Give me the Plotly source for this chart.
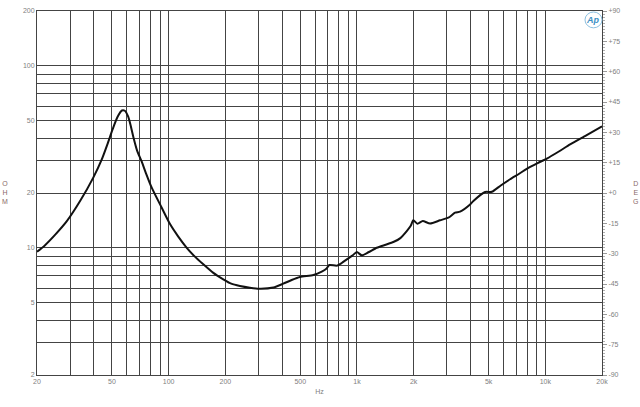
import plotly.graph_objects as go

# Impedance magnitude curve
freq_hz = [20, 22, 25, 28.8, 33.8, 39.8, 44.1, 47.5, 50.5, 53.5, 56.5, 58.5, 61, 63, 65, 68, 71.9,
           76, 81.3, 91.9, 101.7, 112, 124.8, 137, 152.8, 172, 195, 215, 239, 270, 306, 360, 406,
           450, 498, 587, 650, 690, 713, 781, 830, 883, 950, 998, 1060, 1150, 1274, 1420, 1560,
           1700, 1838, 1930, 1992, 2094, 2235, 2444, 2761, 3057, 3318, 3527, 3988, 4150, 4790,
           5199, 5800, 6502, 7300, 8131, 9100, 10186, 11800, 13540, 16500, 20000]
impedance_ohm = [9.5, 10.3, 11.8, 14.0, 18.0, 24.3, 30.5, 37.5, 45.0, 52.3, 56.8, 56.6, 52.5, 46.5,
                 40.5, 34.2, 29.8, 25.5, 21.4, 16.6, 13.5, 11.6, 10.0, 9.0, 8.11, 7.3, 6.71, 6.35,
                 6.17, 6.04, 5.96, 6.05, 6.35, 6.65, 6.91, 7.09, 7.40, 7.7, 8.04, 7.98, 8.25, 8.64,
                 9.1, 9.48, 9.09, 9.45, 10.0, 10.4, 10.76, 11.3, 12.36, 13.2, 14.16, 13.56, 14.03,
                 13.6, 14.16, 14.63, 15.6, 15.8, 17.3, 18.07, 20.25, 20.3, 22.0, 23.8, 25.6, 27.5,
                 29.2, 30.9, 33.8, 37.0, 41.5, 46.5]

# Axis grids and labels
x_grid = [20, 30, 40, 50, 60, 70, 80, 90, 100, 200, 300, 400, 500, 600, 700, 800, 900,
          1000, 2000, 3000, 4000, 5000, 6000, 7000, 8000, 9000, 10000, 20000]
x_labels = {20: "20", 50: "50", 100: "100", 200: "200", 500: "500", 1000: "1k",
            2000: "2k", 5000: "5k", 10000: "10k", 20000: "20k"}
y_grid = [2, 3, 4, 5, 6, 7, 8, 9, 10, 20, 30, 40, 50, 60, 70, 80, 90, 100, 200]
y_labels = {2: "2", 5: "5", 10: "10", 20: "20", 50: "50", 100: "100", 200: "200"}
deg_ticks = [90, 75, 60, 45, 30, 15, 0, -15, -30, -45, -60, -75, -90]
deg_labels = ["+%d" % d if d >= 0 else "%d" % d for d in deg_ticks]

tick_font = dict(family="Liberation Sans, Arial", size=7, color="#808080")
grid_color = "#444444"

W, H = 640, 407
ML, MR, MT, MB = 37, 38, 7, 32

fig = go.Figure()
fig.add_trace(go.Scatter(x=freq_hz, y=impedance_ohm, mode="lines",
                         line=dict(color="#111111", width=2, shape="spline", smoothing=0.6),
                         showlegend=False, hoverinfo="skip"))
# empty phase trace so the right-hand degree axis is drawn
fig.add_trace(go.Scatter(x=freq_hz, y=[None] * len(freq_hz), yaxis="y2", mode="lines",
                         showlegend=False, hoverinfo="skip"))

fig.update_layout(
    width=W, height=H,
    margin=dict(l=ML, r=MR, t=MT, b=MB),
    paper_bgcolor="white", plot_bgcolor="white",
    showlegend=False,
    xaxis=dict(type="log", range=[1.30103, 4.30103],
               tickmode="array", tickvals=x_grid,
               ticktext=[x_labels.get(v, "") for v in x_grid],
               showgrid=True, gridcolor=grid_color, gridwidth=1,
               showline=True, linecolor=grid_color, linewidth=1, mirror=True,
               ticks="", tickfont=tick_font, zeroline=False,
               title=dict(text="Hz", font=tick_font, standoff=4)),
    yaxis=dict(type="log", range=[0.30103, 2.30103],
               tickmode="array", tickvals=y_grid,
               ticktext=[y_labels.get(v, "") for v in y_grid],
               showgrid=True, gridcolor=grid_color, gridwidth=1,
               showline=True, linecolor=grid_color, linewidth=1, mirror=True,
               ticks="", tickfont=tick_font, zeroline=False),
    yaxis2=dict(overlaying="y", side="right", range=[-90, 90],
                tickmode="array", tickvals=deg_ticks, ticktext=deg_labels,
                showgrid=False, zeroline=False, showline=False,
                ticks="outside", ticklen=4, tickcolor="#9a9a9a", tickwidth=1,
                minor=dict(dtick=1.5, ticks="outside", ticklen=2, tickcolor="#b0b0b0"),
                tickfont=tick_font),
)


def px(x):
    return (x - ML) / (W - ML - MR)


def py(y):
    return 1 - (y - MT) / (H - MT - MB)


label_font = dict(family="Liberation Sans, Arial", size=7, color="#8a6a6a")
fig.add_annotation(x=px(5), y=py(190), xref="paper", yref="paper", text="O<br>H<br>M",
                   showarrow=False, font=label_font, xanchor="center", yanchor="middle")
fig.add_annotation(x=px(635), y=py(190), xref="paper", yref="paper", text="D<br>E<br>G",
                   showarrow=False, font=label_font, xanchor="center", yanchor="middle")
fig.add_annotation(x=px(593), y=py(16), xref="paper", yref="paper", text="<b><i>Ap</i></b>",
                   showarrow=False, font=dict(family="Liberation Sans, Arial", size=9, color="#3d8fc4"),
                   xanchor="center", yanchor="middle")
fig.add_shape(type="circle", xref="paper", yref="paper",
              x0=px(585), x1=px(602), y0=py(24), y1=py(8),
              line=dict(color="#8cc0e0", width=1))

fig.write_html("out.html", config={"displayModeBar": False},
               post_script="document.body.style.margin='0';document.body.style.padding='0';")
